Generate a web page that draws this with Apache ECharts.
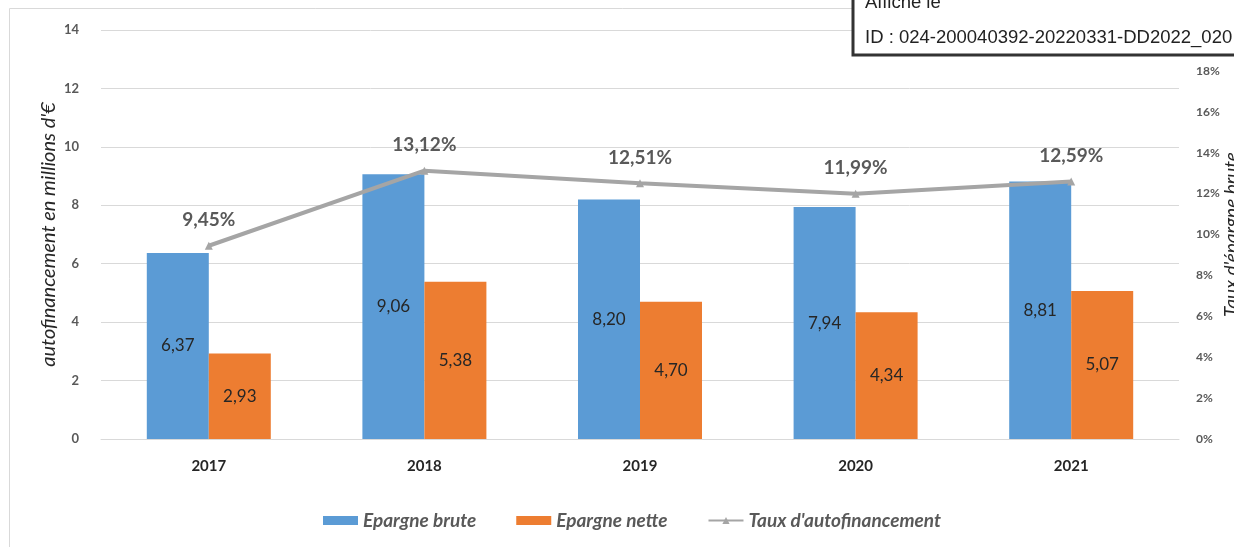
<!DOCTYPE html>
<html>
<head>
<meta charset="utf-8">
<script src="https://cdn.jsdelivr.net/npm/echarts@6/dist/echarts.min.js"></script>
<style>
  html, body { margin: 0; padding: 0; background: #fff; }
  #chart { width: 1234px; height: 547px; }
</style>
</head>
<body>
<div id="chart"></div>
<script>
const years = ["2017", "2018", "2019", "2020", "2021"];
const epargneBrute = [6.37, 9.06, 8.20, 7.94, 8.81];
const epargneNette = [2.93, 5.38, 4.70, 4.34, 5.07];
const tauxAutofin = [9.45, 13.12, 12.51, 11.99, 12.59];

const fr = (v, d) => v.toFixed(d).replace(".", ",");
const font = "Lato, 'Open Sans', sans-serif";

const chart = echarts.init(document.getElementById("chart"));

chart.setOption({
  animation: false,
  textStyle: { fontFamily: font },
  grid: { left: 101, right: 55, top: 30, bottom: 108, outerBoundsMode: "none" },
  legend: {
    bottom: 12,
    left: 318,
    itemWidth: 35,
    itemHeight: 9,
    itemGap: 40,
    textStyle: { fontStyle: "italic", fontSize: 19, color: "#595959", fontWeight: "bold" },
    data: [
      { name: "Epargne brute", icon: "rect" },
      { name: "Epargne nette", icon: "rect" },
      { name: "Taux d'autofinancement" }
    ]
  },
  xAxis: {
    type: "category",
    data: years,
    axisLine: { lineStyle: { color: "#d9d9d9" } },
    axisTick: { show: false },
    axisLabel: { fontWeight: "bold", fontSize: 15, color: "#262626", margin: 20 }
  },
  yAxis: [
    {
      type: "value",
      min: 0,
      max: 14,
      interval: 2,
      name: "autofinancement en millions d'€",
      nameLocation: "middle",
      nameGap: 42,
      nameMoveOverlap: false,
      nameTextStyle: { fontStyle: "italic", fontSize: 20, color: "#262626" },
      axisLabel: { color: "#595959", fontSize: 13, fontWeight: "bold", margin: 22 },
      splitLine: { lineStyle: { color: "#d9d9d9", width: 1 } }
    },
    {
      type: "value",
      min: 0,
      max: 20,
      interval: 2,
      name: "Taux d'épargne brute",
      nameLocation: "middle",
      nameGap: 43,
      nameMoveOverlap: false,
      nameRotate: 90,
      nameTextStyle: { fontStyle: "italic", fontSize: 19, color: "#262626" },
      axisLabel: {
        color: "#595959", fontSize: 12, fontWeight: "bold", margin: 17,
        formatter: (v) => v + "%"
      },
      splitLine: { show: false }
    }
  ],
  series: [
    {
      name: "Epargne brute",
      type: "bar",
      data: epargneBrute,
      barWidth: 62,
      barGap: "0%",
      itemStyle: { color: "#5b9bd5" },
      label: {
        show: true, position: "inside", color: "#262626", fontSize: 17,
        formatter: (p) => fr(p.value, 2)
      }
    },
    {
      name: "Epargne nette",
      type: "bar",
      data: epargneNette,
      barWidth: 62,
      barGap: "0%",
      itemStyle: { color: "#ed7d31" },
      label: {
        show: true, position: "inside", color: "#262626", fontSize: 17,
        formatter: (p) => fr(p.value, 2)
      }
    },
    {
      name: "Taux d'autofinancement",
      type: "line",
      yAxisIndex: 1,
      data: tauxAutofin,
      symbol: "triangle",
      symbolSize: 8,
      lineStyle: { color: "#a5a5a5", width: 4 },
      itemStyle: { color: "#a5a5a5" },
      label: {
        show: true, position: "top", distance: 12, color: "#595959",
        fontSize: 19, fontWeight: "bold",
        formatter: (p) => fr(p.value, 2) + "%"
      }
    }
  ],
  graphic: [
    {
      type: "rect",
      shape: { x: 9.5, y: 8.5, width: 1300, height: 600 },
      style: { fill: "none", stroke: "#d9d9d9", lineWidth: 1 },
      z: -1
    },
    {
      type: "rect",
      shape: { x: 853, y: -20, width: 400, height: 75 },
      style: { fill: "#fff", stroke: "#333", lineWidth: 3 },
      z: 100
    },
    {
      type: "text",
      x: 865, y: -7,
      style: { text: "Affiché le", fill: "#222", font: "18.5px 'Liberation Sans', Arial, sans-serif" },
      z: 101
    },
    {
      type: "text",
      x: 865, y: 28,
      style: { text: "ID : 024-200040392-20220331-DD2022_020", fill: "#222", font: "18.5px 'Liberation Sans', Arial, sans-serif" },
      z: 101
    }
  ]
});
</script>
</body>
</html>
